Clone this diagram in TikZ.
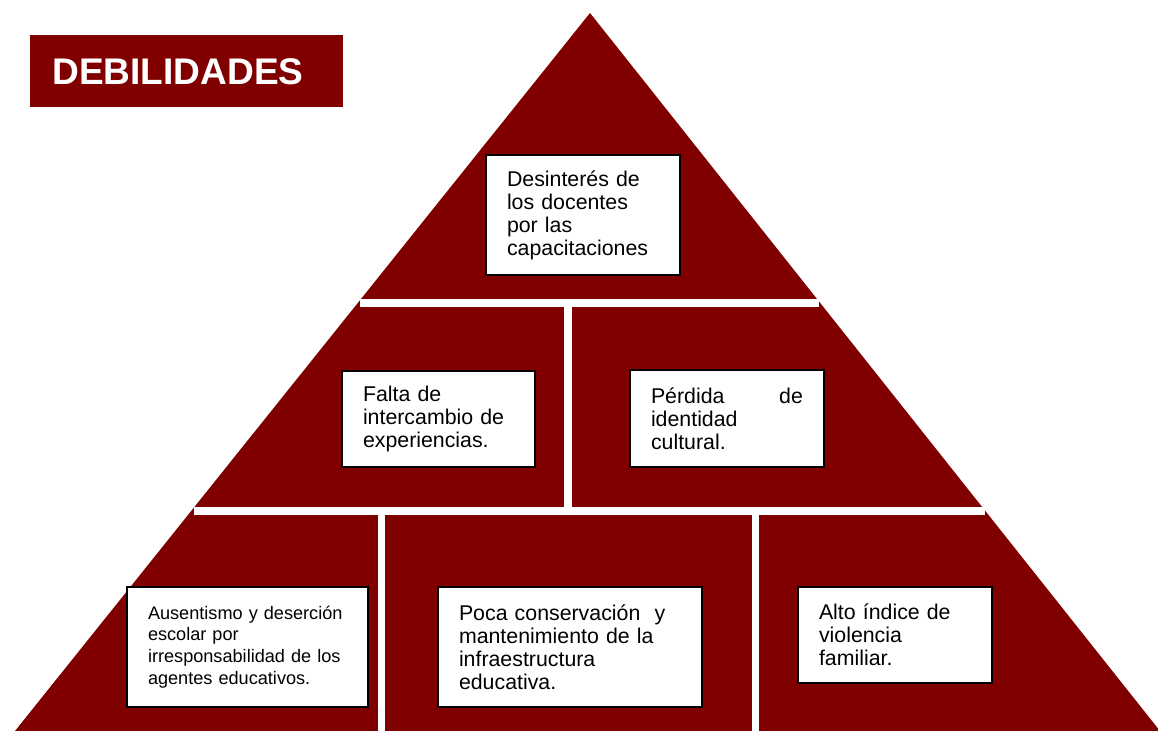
\documentclass[tikz,border=0pt]{standalone}
\usepackage{fontspec}
\setmainfont{Liberation Sans}
\usepackage{xcolor}
\usetikzlibrary{positioning}
\definecolor{maroon}{RGB}{128,0,0}

\begin{document}
\begin{tikzpicture}[
    x=0.75pt, y=-0.75pt,
    box/.style={rectangle, draw=black, fill=white, line width=1pt, align=left,
        inner xsep=15.75pt, inner ysep=0pt, font=\fontsize{16}{17.25}\selectfont},
    smallbox/.style={box, font=\fontsize{13.6}{16.25}\selectfont},
    titlebox/.style={rectangle, fill=maroon, text=white, align=left, anchor=north west,
        minimum width=234.75pt, minimum height=54pt, inner xsep=16.5pt, text width=201.75pt,
        font=\fontsize{27.8}{30}\selectfont\bfseries}
]
    \useasboundingbox (0,0) rectangle (1158,731);

    % Pyramid
    \fill[maroon] (590,13) -- (1160,731) -- (15,731) -- cycle;

    % White separators
    \fill[white] (360,299) rectangle (819,307);
    \fill[white] (564,307) rectangle (572,507);
    \fill[white] (194,507) rectangle (985,515);
    \fill[white] (378,515) rectangle (385,731);
    \fill[white] (752,515) rectangle (759,731);

    % Title
    \node[titlebox] (debilidades) at (30,35) {DEBILIDADES};

    % Top level
    \node[box, text width=114pt, minimum height=90pt] (docentes) at (583,215)
        {Desinterés de\\los docentes\\por las\\capacitaciones};

    % Middle level
    \node[box, text width=113.25pt, minimum height=72pt] (intercambio) at (438.5,419)
        {Falta de\\intercambio de\\experiencias.};
    \node[box, text width=114pt, minimum height=72.75pt] (identidad) at (727,418.5)
        {Pérdida\hfill de\\identidad\\cultural.};

    % Bottom level
    \node[smallbox, text width=149.25pt, minimum height=90pt] (ausentismo) at (247.5,647)
        {Ausentismo y deserción\\escolar por\\irresponsabilidad de los\\agentes educativos.};
    \node[box, text width=166.5pt, minimum height=90pt] (conservacion) at (570,647)
        {Poca conservación\ \ y\\mantenimiento de la\\infraestructura\\educativa.};
    \node[box, text width=114pt, minimum height=72pt] (violencia) at (895,635)
        {Alto índice de\\violencia\\familiar.};
\end{tikzpicture}
\end{document}
